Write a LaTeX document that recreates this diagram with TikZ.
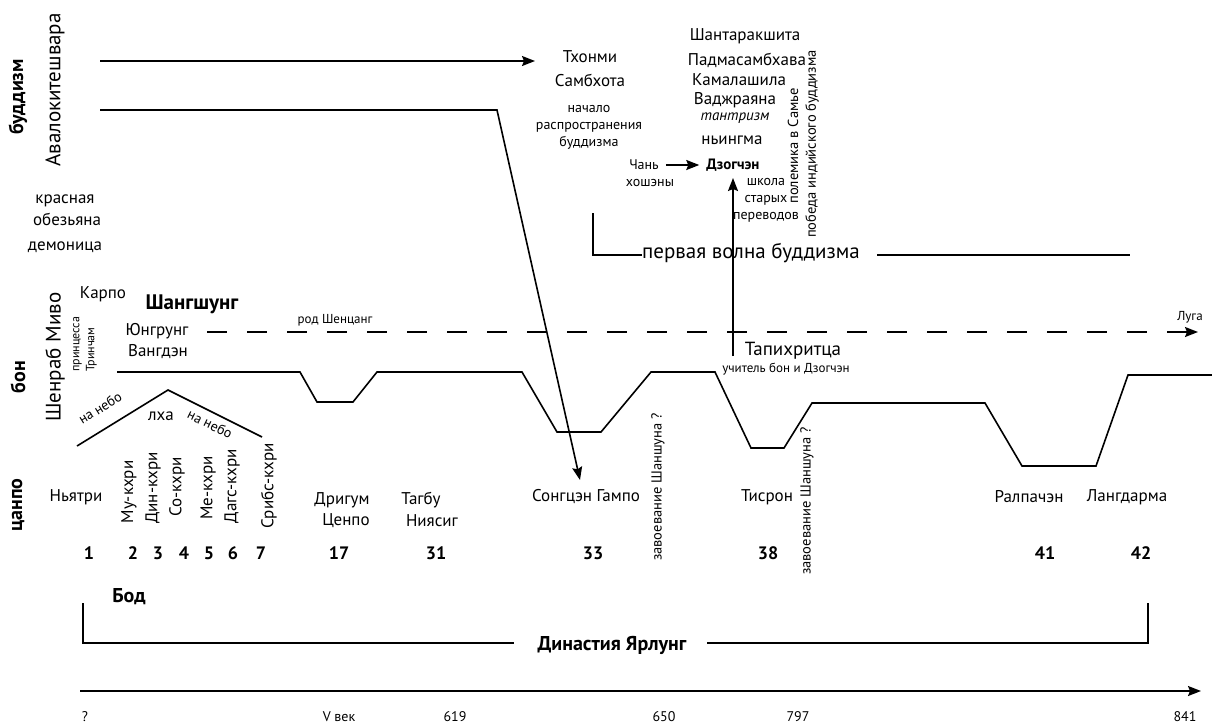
\documentclass[tikz,border=0pt]{standalone}
\usepackage{fontspec}
\setmainfont{PT Sans}
\usetikzlibrary{arrows.meta,calc,positioning}

\newcommand{\fsz}[2]{\fontsize{#1}{#2}\selectfont}

\begin{document}
\begin{tikzpicture}[x=1pt, y=-1pt,
    every node/.style={inner sep=0pt, font=\fsz{17}{20}},
    small/.style={font=\fsz{14}{17}},
    tiny/.style={font=\fsz{13}{15}},
    large/.style={font=\fsz{21}{24}},
    heading/.style={font=\fsz{20}{23}\bfseries},
    num/.style={font=\fsz{18}{21}\bfseries},
    vert/.style={rotate=90},
    lw/.style={line width=1.6pt},
    arr/.style={-{Stealth[length=13pt,width=10pt,inset=2pt]}}]
    \useasboundingbox (0,0) rectangle (1212,724);

    % buddhism
    \node[heading, vert] (budd) at (18,97) {буддизм};
    \node[large, vert] (aval) at (55,90) {Авалокитешвара};
    \node (krasn) at (65,201) {красная};
    \node (obez) at (67,219) {обезьяна};
    \node (demon) at (65,247) {демоница};

    \coordinate (t1) at (100,61);
    \coordinate (t2) at (535,61);
    \coordinate (c1) at (100,110);
    \coordinate (c2) at (497,110);
    \coordinate (c3) at (580,480);
    \draw[lw, arr] (t1) -- (t2);
    \draw[lw, arr] (c1) -- (c2) -- (c3);

    \node (tkhonmi) at (590,57) {Тхонми};
    \node (sambkhota) at (590,80) {Самбхота};
    \node[small, align=center] (nachalo) at (589,127) {начало\\распространения\\буддизма};

    \node (shanta) at (745,36) {Шантаракшита};
    \node (padma) at (747,60) {Падмасамбхава};
    \node (kamala) at (739,80) {Камалашила};
    \node (vajra) at (735,100) {Ваджраяна};
    \node[font=\fsz{15}{17}\itshape] (tantra) at (735,118) {тантризм};
    \node (nyingma) at (732,140) {ньингма};
    \node[font=\fsz{15}{17}\bfseries] (dzog) at (733,165) {Дзогчэн};
    \node[small] (chan) at (644,165) {Чань};
    \node[small] (khosh) at (650,183) {хошэны};
    \draw[lw, arr, shorten <=7pt, shorten >=7pt] (chan) -- (dzog);

    \node[small, align=center] (shkola) at (766,200) {школа\\старых\\переводов};
    \node[vert, font=\fsz{14.5}{17}] (polem) at (793,146) {полемика в Самье};
    \node[vert, font=\fsz{14.5}{17}] (pobeda) at (812,144) {победа индийского буддизма};

    \node[large] (pervaya) at (751,253) {первая волна буддизма};
    \coordinate (p1) at (593,213);
    \coordinate (p2) at (593,255);
    \coordinate (p3) at (877,255);
    \coordinate (p4) at (1130,255);
    \draw[lw] (p1) -- (p2) -- (pervaya.west |- p2);
    \draw[lw] (p3) -- (p4);

    \coordinate (v1) at (733,356);
    \coordinate (v2) at (733,178);
    \draw[lw, arr] (v1) -- (v2);

    % bon
    \node (karpo) at (103,294) {Карпо};
    \node[font=\fsz{21}{24}\bfseries] (shang) at (192,304) {Шангшунг};
    \node (yungrung) at (157,331) {Юнгрунг};
    \node (vangden) at (158,352) {Вангдэн};
    \node[large, vert] (shenrab) at (55,357) {Шенраб Миво};
    \node[heading, vert] (bon) at (18,377) {бон};
    \node[vert, align=left, anchor=north west, font=\fsz{12}{15}] (princ) at (73,372) {принцесса\\Тринчам};

    \coordinate (d1) at (207,332);
    \coordinate (d2) at (1198,332);
    \draw[lw, dash pattern=on 20pt off 20pt, arr] (d1) -- (d2);
    \node[tiny] (rod) at (335,320) {род Шенцанг};
    \node[tiny] (luga) at (1190,317) {Луга};
    \node[font=\fsz{19}{22}] (tapi) at (793,351) {Тапихритца};
    \node[tiny] (uchit) at (786,369) {учитель бон и Дзогчэн};

    \draw[lw] (117,372) -- (300,372) -- (317,402) -- (353,402) -- (377,372)
        -- (522,372) -- (557,432) -- (601,432) -- (651,372) -- (715,372)
        -- (751,448) -- (784,448) -- (812,403) -- (985,403) -- (1022,466)
        -- (1096,466) -- (1128,375) -- (1212,375);

    \draw[lw] (77,446) -- (168,390) -- (262,437);
    \node[small, rotate=32] (nebo1) at (100,408) {на небо};
    \node (lha) at (161,416) {лха};
    \node[small, rotate=-26] (nebo2) at (210,424) {на небо};

    % tsanpo
    \node[heading, vert] (tsanpo) at (18,505) {цанпо};
    \node (nyatri) at (76,497) {Ньятри};
    \node[vert] (mu) at (129,492) {Му-кхри};
    \node[vert] (din) at (153,488) {Дин-кхри};
    \node[vert] (so) at (177,487) {Со-кхри};
    \node[vert] (me) at (208,488) {Ме-кхри};
    \node[vert] (dags) at (232,486) {Дагс-кхри};
    \node[vert] (sribs) at (269,486) {Срибс-кхри};
    \node (drigum) at (342,500) {Дригум};
    \node (tsenpo) at (346,521) {Ценпо};
    \node (tagbu) at (421,500) {Тагбу};
    \node (niyasig) at (432,521) {Ниясиг};
    \node (songtsen) at (586,497) {Сонгцэн Гампо};
    \node[vert, font=\fsz{14.5}{17}] (zav1) at (658,487) {завоевание Шаншуна ?};
    \node (tisron) at (767,497) {Тисрон};
    \node[vert, font=\fsz{14.5}{17}] (zav2) at (807,501) {завоевание Шаншуна ?};
    \node (ralpa) at (1029,497) {Ралпачэн};
    \node (langd) at (1127,497) {Лангдарма};

    \node[num] (n1) at (89,553) {1};
    \node[num] (n2) at (133,553) {2};
    \node[num] (n3) at (158,553) {3};
    \node[num] (n4) at (184,553) {4};
    \node[num] (n5) at (209,553) {5};
    \node[num] (n6) at (233,553) {6};
    \node[num] (n7) at (261,553) {7};
    \node[num] (n17) at (339,553) {17};
    \node[num] (n31) at (436,553) {31};
    \node[num] (n33) at (593,553) {33};
    \node[num] (n38) at (768,553) {38};
    \node[num] (n41) at (1045,553) {41};
    \node[num] (n42) at (1141,553) {42};

    \node[font=\fsz{20}{23}\bfseries] (bod) at (129,597) {Бод};
    \node[font=\fsz{20}{23}\bfseries] (dyn) at (612,645) {Династия Ярлунг};
    \coordinate (y1) at (83,603);
    \coordinate (y2) at (83,643);
    \coordinate (y3) at (514,643);
    \coordinate (y4) at (707,643);
    \coordinate (y5) at (1148,643);
    \coordinate (y6) at (1148,603);
    \draw[lw] (y1) -- (y2) -- (y3);
    \draw[lw] (y4) -- (y5) -- (y6);

    \coordinate (ax1) at (80,691);
    \coordinate (ax2) at (1201,691);
    \draw[lw, arr] (ax1) -- (ax2);
    \node[small] (l1) at (85,717) {?};
    \node[small] (l2) at (339,717) {V век};
    \node[small] (l3) at (455,717) {619};
    \node[small] (l4) at (664,717) {650};
    \node[small] (l5) at (798,717) {797};
    \node[small] (l6) at (1185,717) {841};
\end{tikzpicture}
\end{document}
